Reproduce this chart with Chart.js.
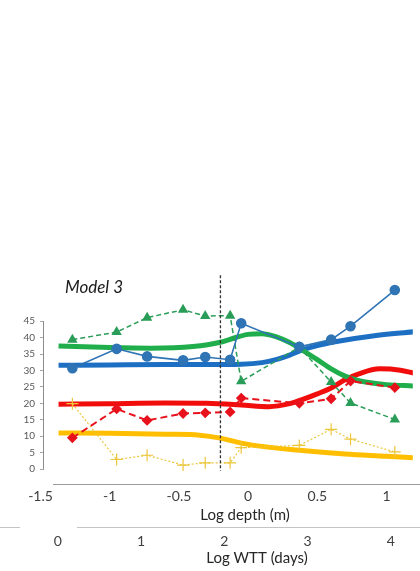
<!DOCTYPE html>
<html>
<head>
<meta charset="utf-8">
<script src="https://cdn.jsdelivr.net/npm/chart.js@4.4.0/dist/chart.umd.min.js"></script>
<style>
  html, body { margin: 0; padding: 0; background: #fff; }
  #wrap { width: 420px; height: 571px; position: relative; }
</style>
</head>
<body>
<div id="wrap"><canvas id="modelChart"></canvas></div>
<script>
// measured points (log depth)
const depthPoints = [-1.27, -0.95, -0.73, -0.47, -0.31, -0.13, -0.05, 0.37, 0.6, 0.74, 1.06];
const bluePoints = [30.7, 36.6, 34.3, 33.1, 34.1, 33.3, 44.4, 37.2, 39.4, 43.5, 54.5];
const greenPoints = [39.4, 41.7, 46.1, 48.5, 46.6, 46.7, 26.7, 37.1, 26.5, 20.1, 15.1];
const redPoints = [9.5, 18.3, 14.8, 16.9, 17.1, 17.4, 21.6, 20.0, 21.4, 26.8, 24.8];
const yellowPoints = [19.9, 2.9, 4.2, 1.2, 1.9, 1.9, 6.5, 7.2, 12.1, 9.1, 5.2];

// model curves
const blueFitX = [-1.37, -1.0, -0.6, -0.3, -0.05, 0.1, 0.2, 0.3, 0.4, 0.5, 0.65, 0.9, 1.2];
const blueFitY = [31.6, 31.7, 31.8, 31.8, 31.9, 32.4, 33.3, 34.7, 36.4, 37.6, 38.9, 40.5, 41.8];
const greenFitX = [-1.37, -1.0, -0.7, -0.4, -0.2, -0.1, 0, 0.1, 0.2, 0.3, 0.4, 0.5, 0.6, 0.7, 0.8, 1.0, 1.2];
const greenFitY = [37.5, 37.0, 36.8, 37.3, 38.6, 39.9, 41.0, 41.2, 40.3, 38.5, 36.0, 33.3, 30.5, 28.3, 26.9, 25.7, 25.3];
const redFitX = [-1.37, -1.0, -0.6, -0.3, -0.05, 0.15, 0.3, 0.4, 0.5, 0.6, 0.7, 0.8, 0.95, 1.1, 1.2];
const redFitY = [19.7, 19.9, 20.1, 20.0, 19.5, 19.0, 19.9, 21.3, 22.9, 24.7, 27.2, 29.0, 30.5, 30.1, 29.2];
const yellowFitX = [-1.37, -1.0, -0.6, -0.35, -0.2, -0.05, 0.1, 0.35, 0.7, 1.0, 1.2];
const yellowFitY = [11.0, 10.9, 10.6, 10.3, 9.4, 7.9, 6.9, 5.8, 4.6, 3.9, 3.4];

// marker line (log depth) and tick labels
const cutDepth = -0.2;
const cutRange = [59, -0.5];
const depthTicks = [-1.5, -1, -0.5, 0, 0.5, 1];
const wttTicks = [0, 1, 2, 3, 4];
const yTicks = [0, 5, 10, 15, 20, 25, 30, 35, 40, 45];

function pairs(xs, ys) {
	return xs.map((x, i) => ({ x: x, y: ys[i] }));
}

Chart.defaults.font.family = 'Lato, "Open Sans", sans-serif';

const extrasPlugin = {
	id: 'extras',
	afterDraw(chart) {
		const ctx = chart.ctx;
		const area = chart.chartArea;
		const y = chart.scales.y;
		const x2 = chart.scales.x2;
		ctx.save();
		// y axis line only between 0 and 45
		ctx.strokeStyle = '#8c8c8c';
		ctx.lineWidth = 1;
		ctx.beginPath();
		ctx.moveTo(area.left - 0.5, y.getPixelForValue(45));
		ctx.lineTo(area.left - 0.5, y.getPixelForValue(0));
		ctx.stroke();
		// depth axis line
		ctx.strokeStyle = '#9a9a9a';
		ctx.beginPath();
		ctx.moveTo(53, area.bottom + 0.5);
		ctx.lineTo(420, area.bottom + 0.5);
		ctx.stroke();
		// WTT axis line
		ctx.strokeStyle = '#c4c4c4';
		ctx.beginPath();
		ctx.moveTo(0, x2.top + 6.5);
		ctx.lineTo(20, x2.top + 6.5);
		ctx.moveTo(77, x2.top + 6.5);
		ctx.lineTo(420, x2.top + 6.5);
		ctx.stroke();
		// titles
		ctx.fillStyle = '#1a1a1a';
		ctx.font = 'italic 17px Lato';
		ctx.textAlign = 'left';
		ctx.textBaseline = 'alphabetic';
		ctx.fillText('Model 3', 65, 293);
		ctx.fillStyle = '#262626';
		ctx.font = '15px Lato';
		ctx.textAlign = 'center';
		ctx.textBaseline = 'middle';
		ctx.fillText('Log depth (m)', 245, 515);
		ctx.fillText('Log WTT (days)', 257, 558);
		ctx.restore();
	}
};

const modelChart = new Chart(document.getElementById('modelChart'), {
	type: 'line',
	data: {
		datasets: [
			{ label: 'cut', data: [{ x: cutDepth, y: cutRange[0] }, { x: cutDepth, y: cutRange[1] }],
				borderColor: '#333333', borderWidth: 1.3, borderDash: [3, 2], pointRadius: 0, order: 0 },
			{ label: 'Blue obs', data: pairs(depthPoints, bluePoints), borderColor: '#2f74b5', backgroundColor: '#2f74b5',
				borderWidth: 1.6, pointStyle: 'circle', pointRadius: 4.5, order: 1 },
			{ label: 'Green obs', data: pairs(depthPoints, greenPoints), borderColor: '#2a9d58', backgroundColor: '#2a9d58',
				borderWidth: 1.5, borderDash: [5, 3], pointStyle: 'triangle', pointRadius: 4.5, order: 2 },
			{ label: 'Red obs', data: pairs(depthPoints, redPoints), borderColor: '#e8121c', backgroundColor: '#e8121c',
				borderWidth: 2, borderDash: [7, 4], pointStyle: 'rectRot', pointRadius: 4, order: 3 },
			{ label: 'Yellow obs', data: pairs(depthPoints, yellowPoints), borderColor: '#ecc63a', backgroundColor: '#ecc63a',
				borderWidth: 1.2, borderDash: [2, 2], pointStyle: 'cross', pointRadius: 6, pointBorderWidth: 1.2, order: 4 },
			{ label: 'Green fit', data: pairs(greenFitX, greenFitY), borderColor: '#1fae4b', borderWidth: 5,
				pointRadius: 0, cubicInterpolationMode: 'monotone', order: 5 },
			{ label: 'Blue fit', data: pairs(blueFitX, blueFitY), borderColor: '#1c6fc2', borderWidth: 5,
				pointRadius: 0, cubicInterpolationMode: 'monotone', order: 6 },
			{ label: 'Red fit', data: pairs(redFitX, redFitY), borderColor: '#f20d0d', borderWidth: 5,
				pointRadius: 0, cubicInterpolationMode: 'monotone', order: 7 },
			{ label: 'Yellow fit', data: pairs(yellowFitX, yellowFitY), borderColor: '#ffbf00', borderWidth: 5,
				pointRadius: 0, cubicInterpolationMode: 'monotone', order: 8 }
		]
	},
	options: {
		responsive: true,
		maintainAspectRatio: false,
		animation: false,
		layout: { padding: { top: 272, right: 0, bottom: 0, left: 0 } },
		plugins: { legend: { display: false }, tooltip: { enabled: false } },
		scales: {
			x: {
				type: 'linear', position: 'bottom', weight: 0,
				min: -1.475, max: 1.19,
				afterBuildTicks: (s) => { s.ticks = depthTicks.map(v => ({ value: v })); },
				afterFit: (s) => { s.height = 37; },
				grid: { display: false, drawTicks: false },
				border: { display: false },
				ticks: { autoSkip: false, maxRotation: 0, padding: 3.6, color: '#404040',
					font: { size: 14 }, callback: (v) => String(v) }
			},
			x2: {
				type: 'linear', position: 'bottom', weight: 1,
				min: -0.165, max: 4.264,
				afterBuildTicks: (s) => { s.ticks = wttTicks.map(v => ({ value: v })); },
				afterFit: (s) => { s.height = 50; },
				grid: { display: false, drawTicks: false },
				border: { display: false },
				ticks: { autoSkip: false, maxRotation: 0, padding: 11.6, color: '#404040',
					font: { size: 14 }, callback: (v) => String(v) }
			},
			y: {
				type: 'linear', position: 'left',
				min: -4.56, max: 60,
				afterBuildTicks: (s) => { s.ticks = yTicks.map(v => ({ value: v })); },
				afterFit: (s) => { s.width = 44; },
				grid: { display: true, drawOnChartArea: false, drawTicks: true, tickLength: 4, color: '#a6a6a6' },
				border: { display: false },
				ticks: { autoSkip: false, padding: 5, color: '#595959', font: { size: 10 },
					callback: (v) => String(v) }
			}
		}
	},
	plugins: [extrasPlugin]
});
</script>
</body>
</html>
